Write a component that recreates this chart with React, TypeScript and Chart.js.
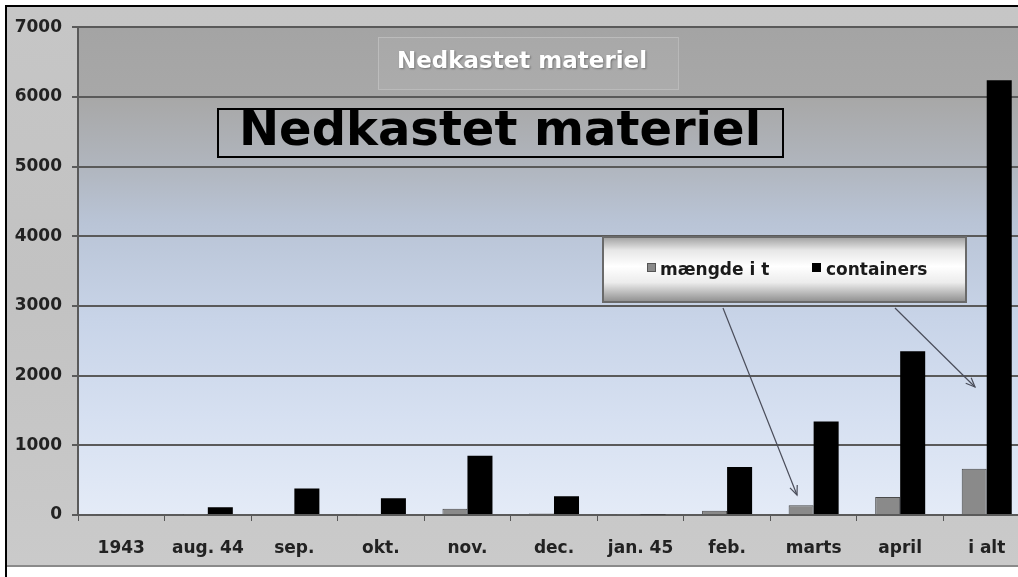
import React, { useEffect, useRef } from "react";
import { Chart, registerables } from "chart.js";

Chart.register(...registerables);

const categories = ["1943", "aug. 44", "sep.", "okt.", "nov.", "dec.", "jan. 45", "feb.", "marts", "april", "i alt"];
const maengde = [12, 5, 15, 8, 90, 20, 10, 60, 140, 260, 665];
const containers = [0, 110, 380, 240, 850, 270, 10, 690, 1340, 2350, 6240];
const seriesLabels = ["mængde i t", "containers"];
const yTickStep = 1000;
const yMax = 7000;
const titleText = "Nedkastet materiel";

const FONT = "'DejaVu Sans', sans-serif";

const backgroundPlugin = {
  id: "bgPlugin",
  beforeDraw(chart: any) {
    const { ctx, chartArea, width, height } = chart;
    ctx.save();
    const og = ctx.createLinearGradient(0, 0, 0, height);
    og.addColorStop(0, "#c6c6c6");
    og.addColorStop(0.5, "#c2c2c2");
    og.addColorStop(1, "#cacaca");
    ctx.fillStyle = og;
    ctx.fillRect(0, 0, width, height);
    const g = ctx.createLinearGradient(0, chartArea.top, 0, chartArea.bottom);
    g.addColorStop(0, "#a4a4a4");
    g.addColorStop(0.15, "#a8a8a8");
    g.addColorStop(0.28, "#b0b5bd");
    g.addColorStop(0.4, "#b9c4d6");
    g.addColorStop(0.6, "#c8d4e8");
    g.addColorStop(0.8, "#d6e0f1");
    g.addColorStop(1, "#e4ebf7");
    ctx.fillStyle = g;
    ctx.fillRect(chartArea.left, chartArea.top, chartArea.right - chartArea.left, chartArea.bottom - chartArea.top);
    ctx.restore();
  },
};

function arrow(ctx: any, x1: number, y1: number, x2: number, y2: number) {
  ctx.beginPath();
  ctx.moveTo(x1, y1);
  ctx.lineTo(x2, y2);
  ctx.stroke();
  const a = Math.atan2(y2 - y1, x2 - x1);
  const L = 10;
  ctx.beginPath();
  ctx.moveTo(x2 - L * Math.cos(a - 0.4), y2 - L * Math.sin(a - 0.4));
  ctx.lineTo(x2, y2);
  ctx.lineTo(x2 - L * Math.cos(a + 0.4), y2 - L * Math.sin(a + 0.4));
  ctx.stroke();
}

const annotationPlugin = {
  id: "annoPlugin",
  afterDatasetsDraw(chart: any) {
    const { ctx } = chart;
    ctx.save();
    // small white title in box
    ctx.fillStyle = "rgba(255,255,255,0.05)";
    ctx.fillRect(371, 30, 300, 52);
    ctx.strokeStyle = "rgba(255,255,255,0.22)";
    ctx.lineWidth = 1;
    ctx.strokeRect(371.5, 30.5, 300, 52);
    ctx.font = `bold 23px ${FONT}`;
    ctx.textAlign = "center";
    ctx.textBaseline = "alphabetic";
    ctx.shadowColor = "rgba(0,0,0,0.35)";
    ctx.shadowBlur = 2;
    ctx.shadowOffsetX = 1;
    ctx.shadowOffsetY = 1;
    ctx.fillStyle = "#ffffff";
    ctx.fillText(titleText, 515, 61);
    ctx.shadowColor = "transparent";
    ctx.shadowBlur = 0;
    ctx.shadowOffsetX = 0;
    ctx.shadowOffsetY = 0;

    // big black title in box
    ctx.strokeStyle = "#000";
    ctx.lineWidth = 2;
    ctx.strokeRect(211, 102, 565, 48);
    ctx.font = `bold 48px ${FONT}`;
    ctx.fillStyle = "#000";
    ctx.fillText(titleText, 493, 138);

    // legend box
    const lx = 596, ly = 230, lw = 363, lh = 65;
    const lg = ctx.createLinearGradient(0, ly, 0, ly + lh);
    lg.addColorStop(0, "#a0a0a0");
    lg.addColorStop(0.2, "#e6e6e6");
    lg.addColorStop(0.45, "#ffffff");
    lg.addColorStop(0.7, "#ececec");
    lg.addColorStop(1, "#8e8e8e");
    ctx.fillStyle = lg;
    ctx.fillRect(lx, ly, lw, lh);
    ctx.strokeStyle = "#6a6a6a";
    ctx.lineWidth = 2;
    ctx.strokeRect(lx, ly, lw, lh);
    const ds = chart.data.datasets;
    const items = [
      { sx: 640, tx: 653 },
      { sx: 805, tx: 819 },
    ];
    ctx.font = `bold 17px ${FONT}`;
    ctx.textAlign = "left";
    ds.forEach((d: any, i: number) => {
      const it = items[i];
      ctx.fillStyle = d.backgroundColor;
      ctx.fillRect(it.sx, 256, 9, 9);
      ctx.strokeStyle = i === 0 ? "#555" : "#000";
      ctx.lineWidth = 1;
      ctx.strokeRect(it.sx + 0.5, 256.5, 8, 8);
      ctx.fillStyle = "#1a1a1a";
      ctx.fillText(d.label, it.tx, 268);
    });

    // arrows
    ctx.strokeStyle = "#4a4d5a";
    ctx.lineWidth = 1.2;
    arrow(ctx, 716, 301, 790, 488);
    arrow(ctx, 888, 301, 968, 380);
    ctx.restore();
  },
};

export default function App() {
  const ref = useRef<HTMLCanvasElement | null>(null);
  useEffect(() => {
    if (!ref.current) return;
    const chart = new Chart(ref.current, {
      type: "bar",
      data: {
        labels: categories,
        datasets: [
          {
            label: seriesLabels[0],
            data: maengde,
            backgroundColor: "#8a8a8a",
            borderColor: "#4a4a4a",
            borderWidth: 1,
            barPercentage: 1,
            categoryPercentage: 0.578,
          },
          {
            label: seriesLabels[1],
            data: containers,
            backgroundColor: "#000000",
            borderColor: "#000000",
            borderWidth: 0,
            barPercentage: 1,
            categoryPercentage: 0.578,
          },
        ],
      },
      options: {
        responsive: false,
        animation: false,
        devicePixelRatio: 1,
        layout: { padding: { left: 0, top: 17, right: 0, bottom: 0 } },
        plugins: {
          legend: { display: false },
          title: { display: false },
          tooltip: { enabled: false },
        },
        scales: {
          x: {
            offset: true,
            grid: {
              drawOnChartArea: false,
              offset: true,
              tickLength: 6,
              color: "#555",
              lineWidth: 1,
            },
            border: { display: true, color: "#5a5a5a", width: 2 },
            ticks: {
              color: "#222",
              font: { family: FONT, size: 17, weight: "bold" },
              padding: 17,
              maxRotation: 0,
              autoSkip: false,
            },
            afterFit(scale: any) {
              scale.height = 50;
            },
          },
          y: {
            min: 0,
            max: yMax,
            ticks: {
              stepSize: yTickStep,
              color: "#222",
              font: { family: FONT, size: 17, weight: "bold" },
              padding: 10,
              callback: (v: any) => String(v),
            },
            grid: {
              color: "#5a5a5a",
              lineWidth: 2,
              tickLength: 6,
            },
            border: { display: true, color: "#5a5a5a", width: 2 },
            afterFit(scale: any) {
              scale.width = 71;
            },
          },
        },
      },
      plugins: [backgroundPlugin, annotationPlugin],
    } as any);
    return () => chart.destroy();
  }, []);

  return (
    <div style={{ position: "absolute", left: 0, top: 0, width: 1018, height: 577, overflow: "hidden", background: "#fff" }}>
      <canvas ref={ref} width={1023} height={558} style={{ position: "absolute", left: 7, top: 7, width: 1023, height: 558 }} />
      <div style={{ position: "absolute", left: 7, top: 565, width: 1011, height: 2, background: "#8a8a8a" }} />
      <div style={{ position: "absolute", left: 5, top: 5, width: 2, height: 572, background: "#000" }} />
      <div style={{ position: "absolute", left: 5, top: 5, width: 1013, height: 2, background: "#000" }} />
    </div>
  );
}
